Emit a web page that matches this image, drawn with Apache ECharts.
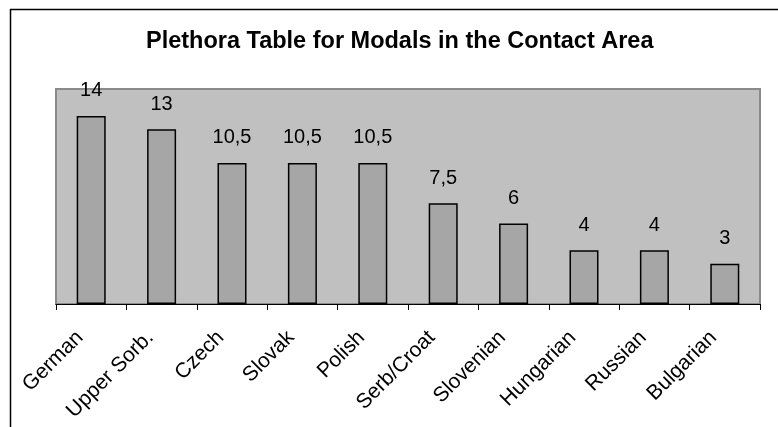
<!DOCTYPE html>
<html>
<head>
<meta charset="utf-8">
<title>Plethora Table for Modals</title>
<script src="https://cdn.jsdelivr.net/npm/echarts@6/dist/echarts.min.js"></script>
<style>
  html, body { margin: 0; padding: 0; background: #fff; }
  #main { width: 778px; height: 427px; }
</style>
</head>
<body>
<div id="main"></div>
<script>
// data
var languages = ['German', 'Upper Sorb.', 'Czech', 'Slovak', 'Polish', 'Serb/Croat', 'Slovenian', 'Hungarian', 'Russian', 'Bulgarian'];
var modalCounts = [14, 13, 10.5, 10.5, 10.5, 7.5, 6, 4, 4, 3];
var yMax = 16;

var chart = echarts.init(document.getElementById('main'));
var font = '"Liberation Sans", Arial, sans-serif';

var option = {
  animation: false,
  backgroundColor: '#ffffff',
  title: {
    text: 'Plethora Table for Modals in the Contact Area',
    left: 141,
    top: 25,
    textStyle: { fontFamily: font, fontSize: 23.5, fontWeight: 'bold', color: '#000' }
  },
  // outer frame: only the top and left edges are visible
  graphic: [
    { type: 'line', shape: { x1: 10, y1: 9.5, x2: 778, y2: 9.5 }, style: { stroke: '#000', lineWidth: 1.5 } },
    { type: 'line', shape: { x1: 10.5, y1: 9, x2: 10.5, y2: 427 }, style: { stroke: '#000', lineWidth: 1.5 } }
  ],
  grid: {
    left: 56, right: 18, top: 89, bottom: 123,
    show: true,
    backgroundColor: '#c0c0c0',
    borderColor: '#8a8a8a',
    borderWidth: 2
  },
  xAxis: {
    type: 'category',
    data: languages,
    axisLine: { lineStyle: { color: '#000', width: 1 } },
    axisTick: { show: true, length: 6, interval: 0, lineStyle: { color: '#000' } },
    axisLabel: {
      interval: 0, rotate: 45, margin: 19,
      padding: [0, 16, 0, 0],
      fontFamily: font, fontSize: 21, color: '#000'
    }
  },
  yAxis: {
    type: 'value',
    min: 0, max: yMax,
    show: false,
    splitLine: { show: false }
  },
  series: [{
    type: 'bar',
    data: modalCounts,
    barWidth: 29,
    itemStyle: { color: '#a6a6a6', borderColor: '#000', borderWidth: 1.5 },
    label: {
      show: true, position: 'top', distance: 15,
      fontFamily: font, fontSize: 20, color: '#000',
      formatter: function (p) { return String(p.value).replace('.', ','); }
    }
  }]
};
chart.setOption(option);
</script>
</body>
</html>
